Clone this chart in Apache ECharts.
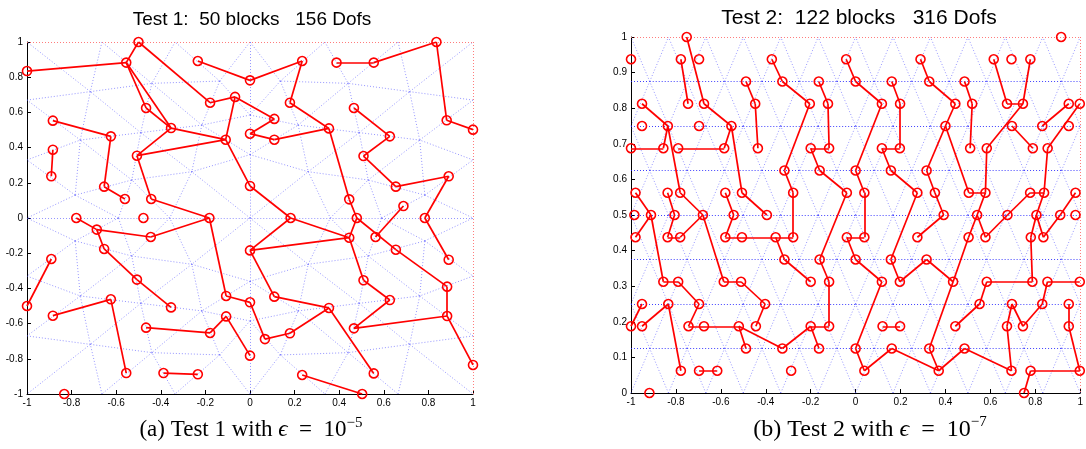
<!DOCTYPE html>
<html><head><meta charset="utf-8">
<script src="https://cdn.jsdelivr.net/npm/echarts/dist/echarts.min.js"></script>
<style>html,body{margin:0;padding:0;background:#fff}#c{width:1086px;height:449px}</style>
</head><body><div id="c"></div>
<script>
// ---------- Test 1 (left): block links (paths of DOF points) ----------
const test1Paths = [
  [[-1,0.835],[-0.555,0.883],[-0.5,1],[-0.179,0.655],[-0.067,0.688],[-0.109,0.445],[0,0.182],[0.182,0],[0,-0.184],[0.445,-0.112],[0.182,0]],
  [[-0.555,0.883],[-0.466,0.625],[-0.354,0.511],[-0.555,0.883]],
  [[-0.354,0.511],[-0.109,0.445],[-0.507,0.354],[-0.354,0.511]],
  [[-0.507,0.354],[-0.443,0.108],[-0.182,0],[-0.107,-0.443],[0,-0.479],[0.067,-0.688],[0.179,-0.655],[0.354,-0.511],[0.109,-0.447],[0,-0.184]],
  [[-0.067,0.688],[0.109,0.563],[0,0.479],[0.109,0.445],[0.354,0.509],[0.445,0.106],[0.479,0]],
  [[0.354,0.509],[0.179,0.655],[0.234,0.892],[0,0.782],[-0.234,0.892]],
  [[0.388,0.883],[0.555,0.883],[0.836,1],[0.882,0.555],[1,0.502]],
  [[0.466,0.625],[0.627,0.464],[0.509,0.352],[0.654,0.178],[0.891,0.237],[0.784,0],[0.891,-0.237]],
  [[0.688,0.068],[0.563,-0.108]],
  [[-0.884,0.553],[-0.624,0.464],[-0.654,0.178],[-0.561,0.108]],
  [[-0.884,0.388],[-0.891,0.237]],
  [[-0.779,0],[-0.687,-0.066],[-0.445,-0.108],[-0.182,0]],
  [[-0.687,-0.066],[-0.654,-0.176],[-0.507,-0.35],[-0.354,-0.508]],
  [[0.445,-0.112],[0.479,0],[0.654,-0.18],[0.884,-0.39],[0.884,-0.557],[1,-0.835]],
  [[0.445,-0.112],[0.509,-0.354],[0.627,-0.466],[0.466,-0.627],[0.884,-0.557]],
  [[0.354,-0.511],[0.555,-0.883]],
  [[0.234,-0.892],[0.503,-1]],
  [[0,-0.782],[-0.107,-0.559],[-0.179,-0.653],[-0.466,-0.623]],
  [[-0.388,-0.881],[-0.234,-0.888]],
  [[-1,-0.5],[-0.891,-0.233]],
  [[-0.884,-0.555],[-0.624,-0.462],[-0.555,-0.881]]
];
const test1Isolated = [[-0.478,0],[-0.833,-1]];

// Test 1 mesh: nodes of the upper-left quarter and its triangles (mirrored to the other quarters)
const mesh1Nodes = [
  [-1,1],[-0.664,1],[-0.336,1],[0,1],
  [-1,0.67],[-0.716,0.718],[-0.44,0.765],[-0.136,0.778],
  [-1,0.33],[-0.761,0.443],[-0.49,0.485],[-0.216,0.528],[0,0.585],
  [-0.784,0.13],[-0.53,0.216],[-0.261,0.263],[0,0.36],
  [-1,0],[-0.59,0],[-0.36,0],[0,0]
];
const mesh1Tris = [
  [0,4,5],[0,1,5],[1,5,6],[1,2,6],[2,6,7],[2,7,3],[3,7,12],
  [4,5,9],[5,6,10],[5,9,10],[6,7,11],[6,11,10],[7,11,12],
  [4,8,9],[8,9,13],[9,13,14],[9,10,14],[10,11,15],[10,14,15],[11,12,16],[11,15,16],
  [8,13,17],[13,17,18],[13,14,18],[14,18,19],[14,15,19],[15,19,20],[15,16,20]
];
const mesh1Quarters = [[1,1],[-1,1],[1,-1],[-1,-1]];
const boundary1 = [[[-1,1],[1,1]],[[1,1],[1,-1]]];

// ---------- Test 2 (right) ----------
const test2Paths = [
  [[-0.752,1],[-0.675,0.8125],[-0.553,0.75],[-0.585,0.6875],[-0.79,0.6875]],
  [[-0.553,0.75],[-0.506,0.5625],[-0.395,0.5]],
  [[-0.778,0.9375],[-0.746,0.8125]],
  [[-0.951,0.8125],[-0.836,0.75],[-0.856,0.6875],[-1,0.6875]],
  [[-0.836,0.75],[-0.781,0.5625],[-0.68,0.5],[-0.781,0.4375],[-0.837,0.4375],[-0.806,0.5],[-0.837,0.5625]],
  [[-0.68,0.5],[-0.587,0.3125],[-0.51,0.3125],[-0.403,0.25],[-0.444,0.1875]],
  [[-0.488,0.875],[-0.447,0.8125],[-0.435,0.6875]],
  [[-0.98,0.5625],[-0.911,0.5],[-0.98,0.4375]],
  [[-0.911,0.5],[-0.856,0.3125],[-0.79,0.3125],[-0.697,0.25],[-0.744,0.1875],[-0.675,0.1875],[-0.52,0.1875],[-0.488,0.125]],
  [[-0.52,0.1875],[-0.326,0.125],[-0.2,0.1875],[-0.118,0.1875],[-0.118,0.3125],[-0.16,0.375],[-0.039,0.5625],[-0.16,0.625],[-0.2,0.6875],[-0.118,0.6875],[-0.123,0.8125],[-0.164,0.875]],
  [[-0.2,0.1875],[-0.163,0.125]],
  [[-0.373,0.9375],[-0.326,0.875],[-0.204,0.8125],[-0.317,0.625],[-0.278,0.5625],[-0.278,0.4375],[-0.356,0.4375],[-0.506,0.4375],[-0.58,0.4375],[-0.543,0.5],[-0.58,0.5625]],
  [[-0.356,0.4375],[-0.317,0.375],[-0.2,0.3125]],
  [[-0.951,0.25],[-1,0.1875]],
  [[-0.951,0.1875],[-0.834,0.25],[-0.778,0.0625]],
  [[-0.697,0.0625],[-0.616,0.0625]],
  [[-0.042,0.9375],[0,0.875],[0.117,0.8125],[0,0.625],[0.039,0.5625],[0.039,0.4375],[-0.039,0.4375],[0,0.375],[0.117,0.3125],[0,0.125],[0.039,0.0625],[0.161,0.125],[0.37,0.0625],[0.485,0.125],[0.694,0.0625],[0.674,0.1875],[0.696,0.25],[0.745,0.1875],[0.831,0.25],[0.854,0.3125],[0.998,0.3125]],
  [[0.37,0.0625],[0.328,0.125],[0.434,0.3125],[0.503,0.4375],[0.541,0.5],[0.578,0.4375],[0.676,0.5],[0.777,0.5625],[0.839,0.5625],[0.855,0.6875],[0.998,0.8125]],
  [[0.434,0.3125],[0.316,0.375],[0.197,0.3125],[0.157,0.375],[0.275,0.5625],[0.157,0.625],[0.117,0.6875],[0.197,0.6875],[0.198,0.8125],[0.161,0.875]],
  [[0.839,0.5625],[0.805,0.5],[0.78,0.4375],[0.787,0.3125],[0.584,0.3125],[0.552,0.25],[0.444,0.1875]],
  [[0.805,0.5],[0.836,0.4375],[0.911,0.5],[0.979,0.5625]],
  [[0.541,0.5],[0.578,0.5625],[0.504,0.5625],[0.4,0.75],[0.316,0.625],[0.353,0.5625],[0.392,0.5],[0.275,0.4375]],
  [[0.4,0.75],[0.444,0.8125],[0.328,0.875],[0.289,0.9375]],
  [[0.578,0.5625],[0.584,0.6875],[0.745,0.8125],[0.674,0.8125],[0.615,0.9375]],
  [[0.745,0.8125],[0.778,0.9375]],
  [[0.485,0.875],[0.519,0.8125],[0.51,0.6875]],
  [[0.696,0.75],[0.789,0.6875]],
  [[0.831,0.75],[0.949,0.8125]],
  [[0.949,0.25],[0.949,0.1875],[0.998,0.0625],[0.779,0.0625],[0.75,0]],
  [[0.12,0.1875],[0.198,0.1875]]
];
const test2Isolated = [[-1,0.9375],[-0.697,0.9375],[-0.951,0.75],[-0.697,0.75],[-0.985,0.5],[-0.918,0],[-0.287,0.0625],[0.694,0.9375],[0.949,0.75],[0.915,1],[0.979,0.5]];

// Test 2 structured mesh
const mesh2RowY = [0,0.125,0.25,0.375,0.5,0.625,0.75,0.875,1];
const mesh2EvenRowX = [-1,-0.8333,-0.6667,-0.5,-0.3333,-0.1667,0,0.1667,0.3333,0.5,0.6667,0.8333,1];
const mesh2OddRowX = [-1,-0.9167,-0.75,-0.5833,-0.4167,-0.25,-0.0833,0.0833,0.25,0.4167,0.5833,0.75,0.9167,1];
const boundary2 = [[[-1,1],[1,1]],[[1,1],[1,0]]];

// tick settings
const test1Ticks = {min:-1, max:1, interval:0.2};
const test2XTicks = {min:-1, max:1, interval:0.2};
const test2YTicks = {min:0, max:1, interval:0.1};

// ---------- builders ----------
const meshStyle = {color:'rgba(80,80,255,0.6)', width:1, type:[1,2], opacity:1};
const meshHorizStyle = {color:'rgba(30,30,255,0.85)', width:1, type:[1,2], opacity:1};
const boundStyle = {color:'rgba(255,110,110,0.9)', width:1, type:[1,2], opacity:1};
const linkStyle = {color:'#ff0000', width:1.7, opacity:1};
const pointStyle = {color:'rgba(0,0,0,0)', borderColor:'#ff0000', borderWidth:1.6, opacity:1};

function segsFromPaths(paths){
  const s=[];
  paths.forEach(p=>{for(let i=0;i<p.length-1;i++) s.push({coords:[p[i],p[i+1]]});});
  return s;
}
function pointsFrom(paths, iso){
  const m=new Map();
  paths.forEach(p=>p.forEach(q=>m.set(q[0]+','+q[1],q)));
  iso.forEach(q=>m.set(q[0]+','+q[1],q));
  return [...m.values()];
}
function onBoundary(p,q){
  return (Math.abs(p[0])===1 && p[0]===q[0]) || (Math.abs(p[1])===1 && p[1]===q[1]);
}
function key(p,q){
  return [p,q].map(v=>v.map(n=>(n+0).toFixed(4)).join(',')).sort().join('|');
}
function mesh1Edges(){
  const m=new Map();
  mesh1Quarters.forEach(([sx,sy])=>{
    mesh1Tris.forEach(t=>{
      for(let k=0;k<3;k++){
        const a=mesh1Nodes[t[k]], b=mesh1Nodes[t[(k+1)%3]];
        const p=[a[0]*sx+0,a[1]*sy+0], q=[b[0]*sx+0,b[1]*sy+0];
        if(onBoundary(p,q)) continue;
        const kk=key(p,q);
        if(!m.has(kk)) m.set(kk,{coords:[p,q]});
      }
    });
  });
  return [...m.values()];
}
function mesh2Edges(){
  const e=[];
  const rowX = r => (r%2===0 ? mesh2EvenRowX : mesh2OddRowX);
  for(let r=0;r<mesh2RowY.length;r++){
    const xs=rowX(r), y=mesh2RowY[r];
    if(y!==0 && y!==1){
      for(let i=0;i<xs.length-1;i++) e.push({coords:[[xs[i],y],[xs[i+1],y]], lineStyle:meshHorizStyle});
    }
    if(r<mesh2RowY.length-1){
      const xs2=rowX(r+1), y2=mesh2RowY[r+1];
      xs.forEach(a=>xs2.forEach(b=>{
        const d=Math.abs(a-b);
        if(d>0.001 && d<0.09) e.push({coords:[[a,y],[b,y2]]});
      }));
    }
  }
  return e;
}

function axisCommon(t, grid){
  return {
    gridIndex:grid, type:'value', min:t.min, max:t.max, interval:t.interval,
    axisLine:{show:true, onZero:false, lineStyle:{color:'#000', width:1}},
    axisTick:{show:true, inside:true, length:4, lineStyle:{color:'#000'}},
    axisLabel:{fontSize:10, fontFamily:'Liberation Sans, Arial, sans-serif', color:'#000', margin:4},
    splitLine:{show:false}
  };
}
function plotSeries(idx, meshData, bounds, paths, iso){
  return [
    {type:'lines', coordinateSystem:'cartesian2d', xAxisIndex:idx, yAxisIndex:idx, silent:true, z:1,
     data:meshData, lineStyle:meshStyle},
    {type:'lines', coordinateSystem:'cartesian2d', xAxisIndex:idx, yAxisIndex:idx, silent:true, z:1,
     data:bounds.map(b=>({coords:b})), lineStyle:boundStyle},
    {type:'lines', coordinateSystem:'cartesian2d', xAxisIndex:idx, yAxisIndex:idx, silent:true, z:3,
     data:segsFromPaths(paths), lineStyle:linkStyle},
    {type:'scatter', xAxisIndex:idx, yAxisIndex:idx, silent:true, z:4, clip:false,
     symbol:'circle', symbolSize:9, data:pointsFrom(paths, iso), itemStyle:pointStyle}
  ];
}

const chart = echarts.init(document.getElementById('c'), null, {renderer:'canvas'});
const serif = "'Liberation Serif','DejaVu Serif',serif";
const sans = 'Liberation Sans, Arial, sans-serif';
function capRich(sz){
  return {
    n:{fontFamily:serif, fontSize:sz, fill:'#000', lineHeight:sz+6},
    e:{fontFamily:serif, fontSize:sz, fontStyle:'italic', fill:'#000', lineHeight:sz+6},
    s:{fontFamily:serif, fontSize:Math.round(sz*0.64), fill:'#000', verticalAlign:'top', lineHeight:Math.round(sz*0.64)}
  };
}
chart.setOption({
  animation:false,
  backgroundColor:'#fff',
  grid:[
    {left:27, top:42, width:446, height:352},
    {left:631, top:37, width:453, height:356}
  ],
  xAxis:[axisCommon(test1Ticks,0), axisCommon(test2XTicks,1)],
  yAxis:[axisCommon(test1Ticks,0), axisCommon(test2YTicks,1)],
  graphic:[
    {type:'text', x:252, y:20, style:{text:'Test 1:  50 blocks   156 Dofs', textAlign:'center', textVerticalAlign:'middle',
      fontFamily:sans, fontSize:19, fill:'#000'}},
    {type:'text', x:859, y:18, style:{text:'Test 2:  122 blocks   316 Dofs', textAlign:'center', textVerticalAlign:'middle',
      fontFamily:sans, fontSize:21, fill:'#000'}},
    {type:'text', x:251, y:430, style:{text:'{n|(a) Test 1 with }{e|ϵ}{n|  =  10}{s|−5}', rich:capRich(23), textAlign:'center', textVerticalAlign:'middle'}},
    {type:'text', x:870, y:430, style:{text:'{n|(b) Test 2 with }{e|ϵ}{n|  =  10}{s|−7}', rich:capRich(24), textAlign:'center', textVerticalAlign:'middle'}}
  ],
  series:[
    ...plotSeries(0, mesh1Edges(), boundary1, test1Paths, test1Isolated),
    ...plotSeries(1, mesh2Edges(), boundary2, test2Paths, test2Isolated)
  ]
});
</script></body></html>
